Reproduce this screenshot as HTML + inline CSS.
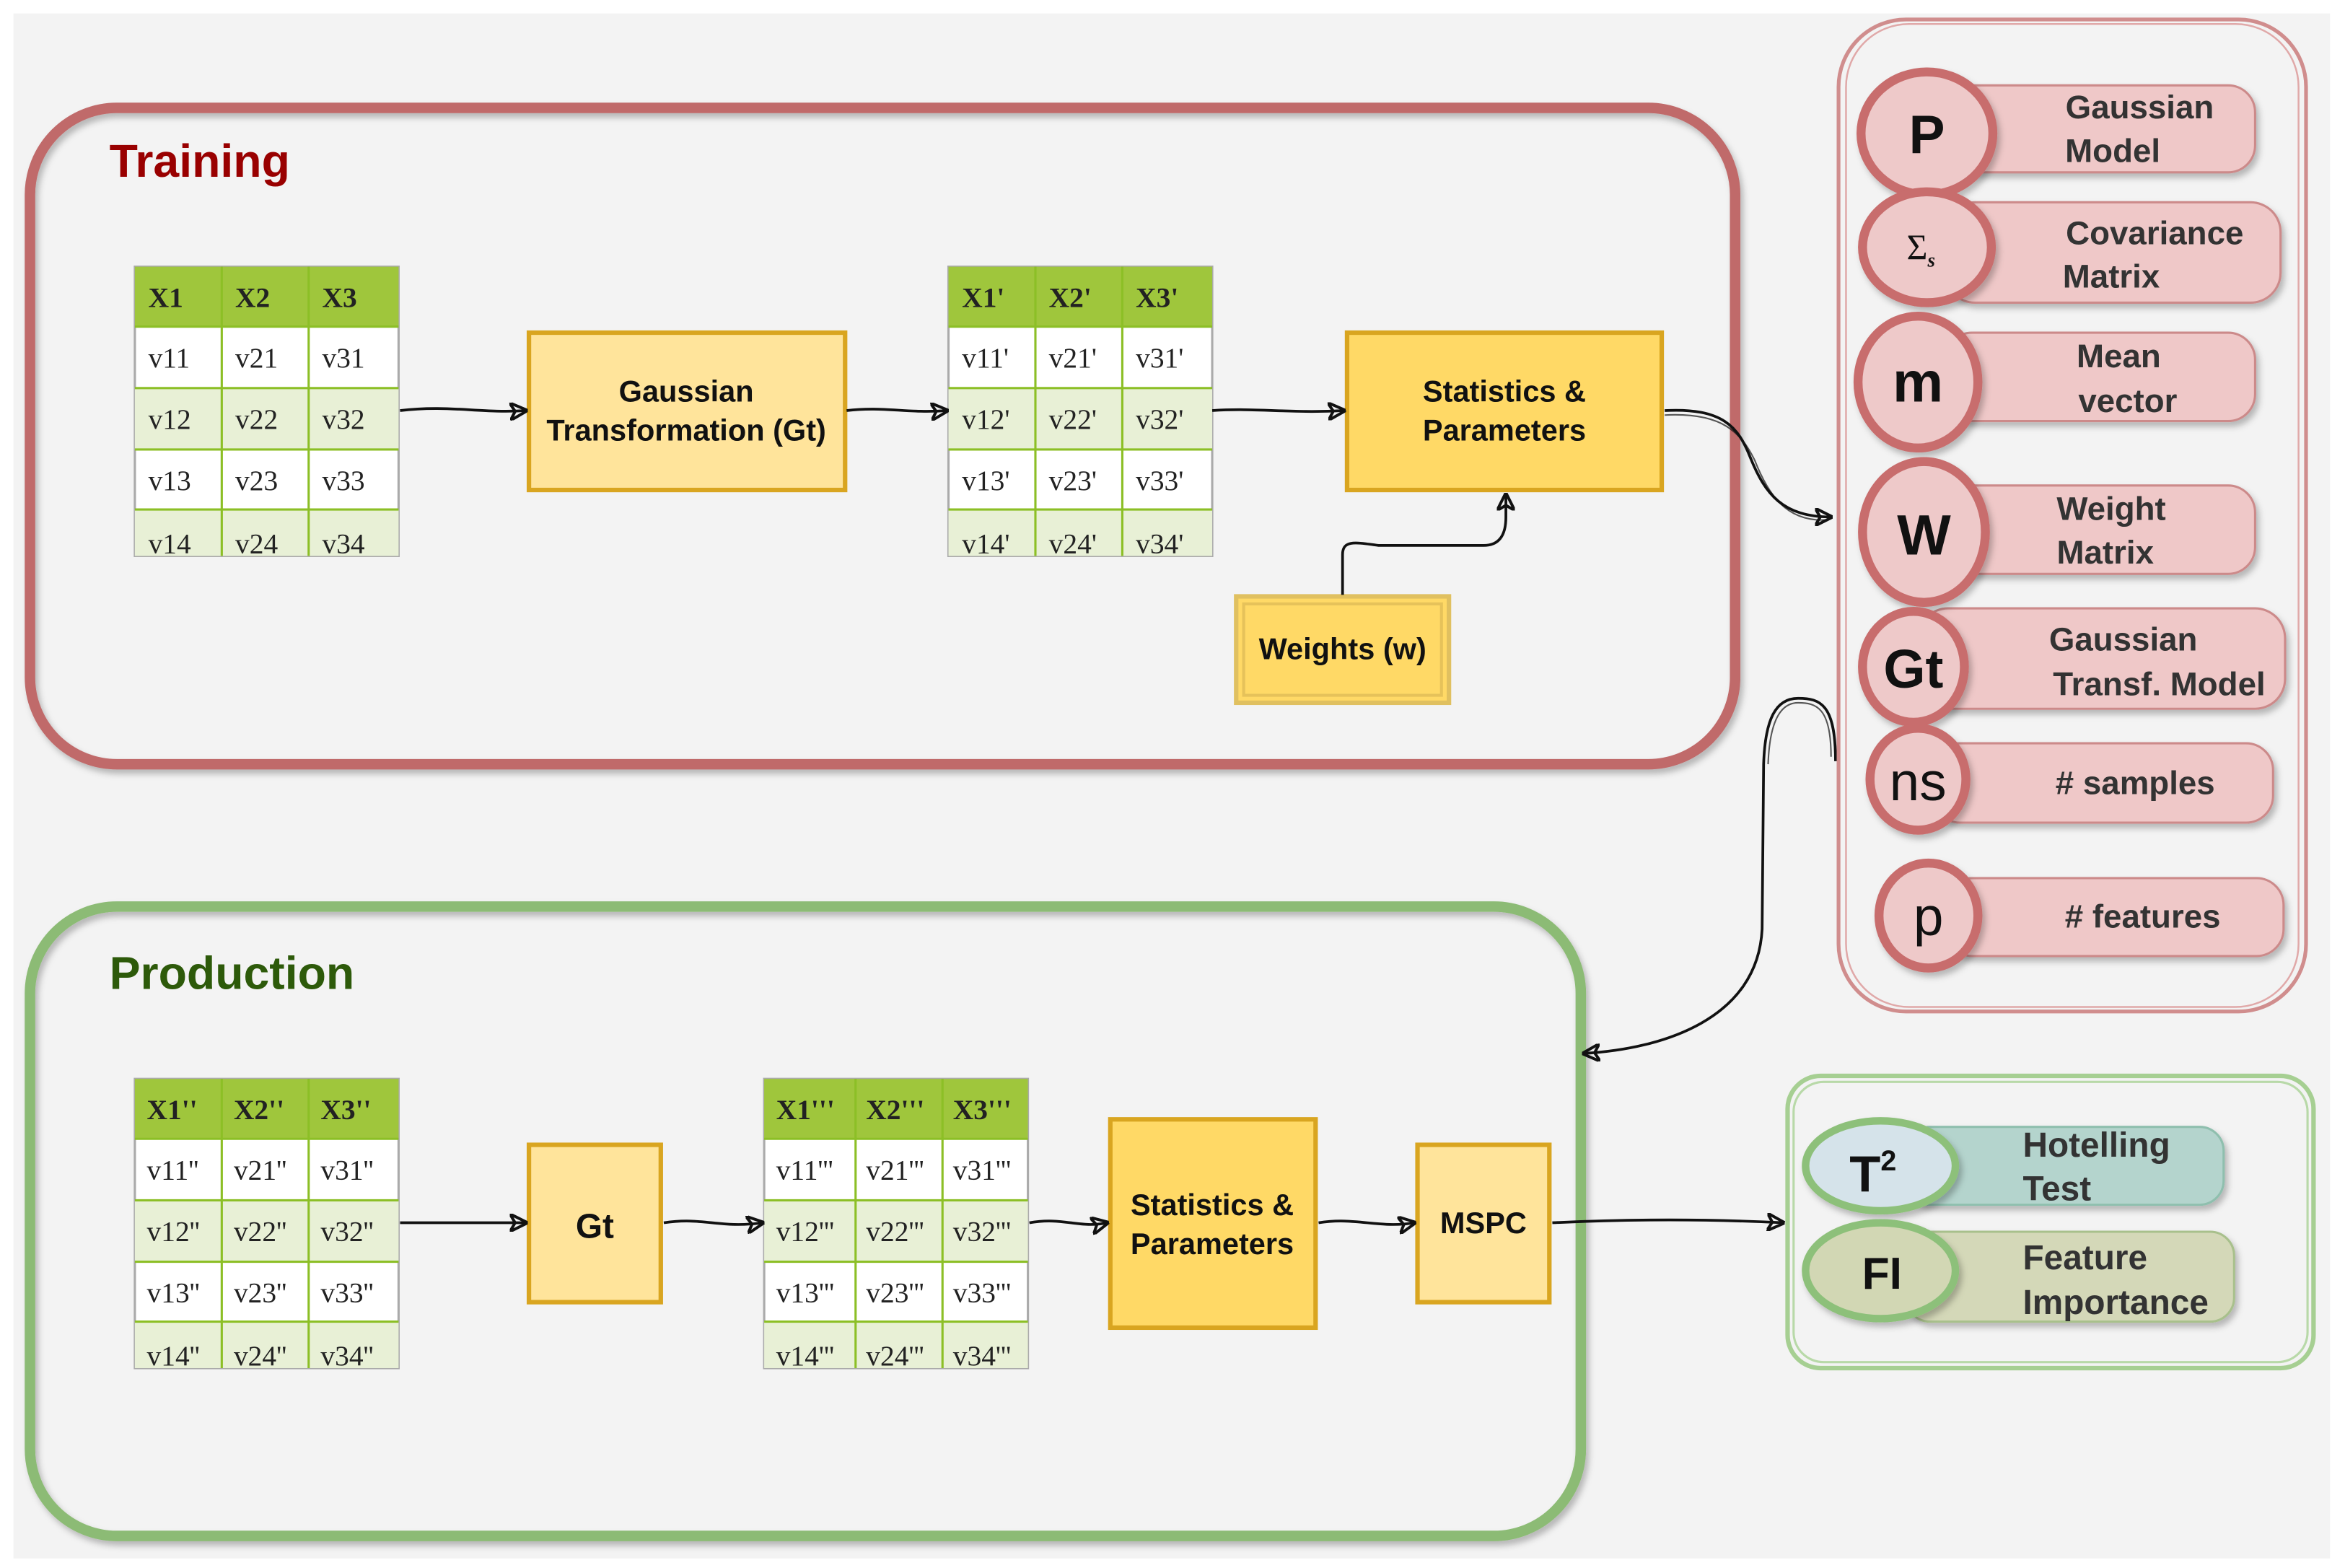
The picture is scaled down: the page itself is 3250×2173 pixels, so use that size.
<!DOCTYPE html>
<html><head><meta charset="utf-8"><style>
html,body{margin:0;padding:0;background:#fff;}
svg{display:block}
</style></head><body>
<svg width="3250" height="2173" viewBox="0 0 1565 1046.4" preserveAspectRatio="none" xmlns="http://www.w3.org/2000/svg">
<defs>
<filter id="sh" x="-10%" y="-10%" width="130%" height="130%"><feDropShadow dx="2" dy="3" stdDeviation="2" flood-color="#000" flood-opacity="0.25"/></filter>
<marker id="ar" viewBox="0 0 10 10" refX="9" refY="5" markerWidth="12" markerHeight="12" markerUnits="userSpaceOnUse" orient="auto"><path d="M0,0 L10,5 L0,10 L3,5 Z" fill="none" stroke="#111" stroke-width="1.6"/></marker>
</defs>
<rect x="9" y="9" width="1546" height="1031" fill="#f3f3f3"/>

<!-- Training box -->
<rect x="20" y="72" width="1138" height="438" rx="58" fill="none" stroke="#c06a6a" stroke-width="7" filter="url(#sh)"/>
<text x="73" y="118" font-family="Liberation Sans, sans-serif" font-weight="bold" font-size="31" fill="#990000">Training</text>

<!-- Production box -->
<rect x="20" y="605" width="1035" height="420" rx="58" fill="none" stroke="#8cbb74" stroke-width="7" filter="url(#sh)"/>
<text x="73" y="660" font-family="Liberation Sans, sans-serif" font-weight="bold" font-size="31" fill="#2d5a0a">Production</text>

<!-- Tables -->
<g font-family="Liberation Serif, serif" font-size="19" fill="#222">
<!-- T1 -->
<g transform="translate(90,178)">
<rect x="0" y="0" width="176" height="193" fill="#fff" stroke="#aaa" stroke-width="1.5"/>
<rect x="0" y="0" width="176" height="40" fill="#9fc63c"/>
<rect x="0" y="81" width="176" height="41" fill="#e8f0d6"/><rect x="0" y="162" width="176" height="31" fill="#e8f0d6"/>
<g stroke="#8cbf26" stroke-width="1.5"><line x1="58" y1="0" x2="58" y2="193"/><line x1="116" y1="0" x2="116" y2="193"/><line x1="0" y1="40" x2="176" y2="40"/><line x1="0" y1="81" x2="176" y2="81"/><line x1="0" y1="122" x2="176" y2="122"/><line x1="0" y1="162" x2="176" y2="162"/></g>
<g font-weight="bold"><text x="9" y="27">X1</text><text x="67" y="27">X2</text><text x="125" y="27">X3</text></g>
<text x="9" y="67">v11</text><text x="67" y="67">v21</text><text x="125" y="67">v31</text>
<text x="9" y="108">v12</text><text x="67" y="108">v22</text><text x="125" y="108">v32</text>
<text x="9" y="149">v13</text><text x="67" y="149">v23</text><text x="125" y="149">v33</text>
<text x="9" y="191">v14</text><text x="67" y="191">v24</text><text x="125" y="191">v34</text>
</g>
<!-- T2 -->
<g transform="translate(633,178)">
<rect x="0" y="0" width="176" height="193" fill="#fff" stroke="#aaa" stroke-width="1.5"/>
<rect x="0" y="0" width="176" height="40" fill="#9fc63c"/>
<rect x="0" y="81" width="176" height="41" fill="#e8f0d6"/><rect x="0" y="162" width="176" height="31" fill="#e8f0d6"/>
<g stroke="#8cbf26" stroke-width="1.5"><line x1="58" y1="0" x2="58" y2="193"/><line x1="116" y1="0" x2="116" y2="193"/><line x1="0" y1="40" x2="176" y2="40"/><line x1="0" y1="81" x2="176" y2="81"/><line x1="0" y1="122" x2="176" y2="122"/><line x1="0" y1="162" x2="176" y2="162"/></g>
<g font-weight="bold"><text x="9" y="27">X1'</text><text x="67" y="27">X2'</text><text x="125" y="27">X3'</text></g>
<text x="9" y="67">v11'</text><text x="67" y="67">v21'</text><text x="125" y="67">v31'</text>
<text x="9" y="108">v12'</text><text x="67" y="108">v22'</text><text x="125" y="108">v32'</text>
<text x="9" y="149">v13'</text><text x="67" y="149">v23'</text><text x="125" y="149">v33'</text>
<text x="9" y="191">v14'</text><text x="67" y="191">v24'</text><text x="125" y="191">v34'</text>
</g>
<!-- T3 -->
<g transform="translate(90,720)">
<rect x="0" y="0" width="176" height="193" fill="#fff" stroke="#aaa" stroke-width="1.5"/>
<rect x="0" y="0" width="176" height="40" fill="#9fc63c"/>
<rect x="0" y="81" width="176" height="41" fill="#e8f0d6"/><rect x="0" y="162" width="176" height="31" fill="#e8f0d6"/>
<g stroke="#8cbf26" stroke-width="1.5"><line x1="58" y1="0" x2="58" y2="193"/><line x1="116" y1="0" x2="116" y2="193"/><line x1="0" y1="40" x2="176" y2="40"/><line x1="0" y1="81" x2="176" y2="81"/><line x1="0" y1="122" x2="176" y2="122"/><line x1="0" y1="162" x2="176" y2="162"/></g>
<g font-weight="bold"><text x="8" y="27">X1''</text><text x="66" y="27">X2''</text><text x="124" y="27">X3''</text></g>
<text x="8" y="67">v11''</text><text x="66" y="67">v21''</text><text x="124" y="67">v31''</text>
<text x="8" y="108">v12''</text><text x="66" y="108">v22''</text><text x="124" y="108">v32''</text>
<text x="8" y="149">v13''</text><text x="66" y="149">v23''</text><text x="124" y="149">v33''</text>
<text x="8" y="191">v14''</text><text x="66" y="191">v24''</text><text x="124" y="191">v34''</text>
</g>
<!-- T4 -->
<g transform="translate(510,720)">
<rect x="0" y="0" width="176" height="193" fill="#fff" stroke="#aaa" stroke-width="1.5"/>
<rect x="0" y="0" width="176" height="40" fill="#9fc63c"/>
<rect x="0" y="81" width="176" height="41" fill="#e8f0d6"/><rect x="0" y="162" width="176" height="31" fill="#e8f0d6"/>
<g stroke="#8cbf26" stroke-width="1.5"><line x1="61" y1="0" x2="61" y2="193"/><line x1="119" y1="0" x2="119" y2="193"/><line x1="0" y1="40" x2="176" y2="40"/><line x1="0" y1="81" x2="176" y2="81"/><line x1="0" y1="122" x2="176" y2="122"/><line x1="0" y1="162" x2="176" y2="162"/></g>
<g font-weight="bold"><text x="8" y="27">X1'''</text><text x="68" y="27">X2'''</text><text x="126" y="27">X3'''</text></g>
<text x="8" y="67">v11'''</text><text x="68" y="67">v21'''</text><text x="126" y="67">v31'''</text>
<text x="8" y="108">v12'''</text><text x="68" y="108">v22'''</text><text x="126" y="108">v32'''</text>
<text x="8" y="149">v13'''</text><text x="68" y="149">v23'''</text><text x="126" y="149">v33'''</text>
<text x="8" y="191">v14'''</text><text x="68" y="191">v24'''</text><text x="126" y="191">v34'''</text>
</g>
</g>

<!-- Boxes -->
<g font-family="Liberation Sans, sans-serif" font-weight="bold" font-size="20" fill="#111" text-anchor="middle">
<rect x="353" y="222" width="211" height="105" fill="#ffe49b" stroke="#d9a520" stroke-width="3"/>
<text x="458" y="268">Gaussian</text><text x="458" y="294">Transformation (Gt)</text>
<rect x="899" y="222" width="210" height="105" fill="#ffd966" stroke="#d9a520" stroke-width="3"/>
<text x="1004" y="268">Statistics &amp;</text><text x="1004" y="294">Parameters</text>
<rect x="825" y="398" width="142" height="71" fill="#ffd966" stroke="#e0c060" stroke-width="3"/>
<rect x="830" y="403" width="132" height="61" fill="none" stroke="#e6c25a" stroke-width="2"/>
<text x="896" y="440">Weights (w)</text>
<rect x="353" y="764" width="88" height="105" fill="#ffe49b" stroke="#d9a520" stroke-width="3"/>
<text x="397" y="826" font-size="23">Gt</text>
<rect x="741" y="747" width="137" height="139" fill="#ffd966" stroke="#d9a520" stroke-width="3"/>
<text x="809" y="811">Statistics &amp;</text><text x="809" y="837">Parameters</text>
<rect x="946" y="764" width="88" height="105" fill="#ffe49b" stroke="#d9a520" stroke-width="3"/>
<text x="990" y="823">MSPC</text>
</g>

<!-- Connectors -->
<g fill="none" stroke="#111" stroke-width="1.8" marker-end="url(#ar)">
<path d="M267,274 C300,270 320,276 351,274"/>
<path d="M565,274 C590,271 605,276 632,274"/>
<path d="M809,274 C840,272 860,276 897,274"/>
<path d="M896,397 L896,370 C896,360 905,362 920,364 L990,364 C1002,364 1005,355 1005,345 L1005,330"/>
<path d="M1111,274 C1150,272 1160,285 1168,305 C1178,330 1190,345 1222,345"/>
<path d="M267,816 L351,816"/>
<path d="M443,816 C470,812 480,820 509,816"/>
<path d="M687,816 C710,812 720,820 739,816"/>
<path d="M880,816 C905,812 920,820 944,816"/>
<path d="M1036,816 C1100,813 1150,814 1190,816"/>
<path d="M1225,508 C1225,470 1215,466 1200,466 C1185,466 1178,480 1177,510 L1176,620 C1173,680 1110,700 1057,703"/>
</g>
<g fill="none" stroke="#111" stroke-width="1" opacity="0.7">
<path d="M1111,277 C1150,275 1162,289 1171,307 C1180,330 1192,348 1218,347"/>
<path d="M1222,505 C1222,472 1212,469 1200,469 C1188,469 1181,482 1180,510"/>
</g>

<!-- Right red panel -->
<rect x="1227" y="13" width="312" height="662" rx="45" fill="none" stroke="#d08d8d" stroke-width="2.5"/>
<rect x="1232" y="16" width="302" height="656" rx="42" fill="none" stroke="#e0a8a8" stroke-width="1.2"/>

<g font-family="Liberation Sans, sans-serif" font-weight="bold" fill="#333" font-size="22" text-anchor="middle">
<rect x="1292" y="57" width="213" height="58" rx="18" fill="#efc8c8" stroke="#cc8a8a" stroke-width="1.5" filter="url(#sh)"/>
<text x="1428" y="79">Gaussian</text><text x="1410" y="108">Model</text>
<rect x="1298" y="135" width="224" height="67" rx="20" fill="#efc8c8" stroke="#cc8a8a" stroke-width="1.5" filter="url(#sh)"/>
<text x="1438" y="163">Covariance</text><text x="1409" y="192">Matrix</text>
<rect x="1298" y="222" width="207" height="59" rx="18" fill="#efc8c8" stroke="#cc8a8a" stroke-width="1.5" filter="url(#sh)"/>
<text x="1414" y="245">Mean</text><text x="1420" y="275">vector</text>
<rect x="1294" y="324" width="211" height="59" rx="18" fill="#efc8c8" stroke="#cc8a8a" stroke-width="1.5" filter="url(#sh)"/>
<text x="1409" y="347">Weight</text><text x="1405" y="376">Matrix</text>
<rect x="1280" y="406" width="245" height="67" rx="20" fill="#efc8c8" stroke="#cc8a8a" stroke-width="1.5" filter="url(#sh)"/>
<text x="1417" y="434">Gaussian</text><text x="1441" y="464">Transf. Model</text>
<rect x="1290" y="496" width="227" height="53" rx="18" fill="#efc8c8" stroke="#cc8a8a" stroke-width="1.5" filter="url(#sh)"/>
<text x="1425" y="530">#  samples</text>
<rect x="1298" y="586" width="226" height="52" rx="18" fill="#efc8c8" stroke="#cc8a8a" stroke-width="1.5" filter="url(#sh)"/>
<text x="1430" y="619">#  features</text>
</g>
<g fill="#eec9c9" stroke="#c86d6d" stroke-width="6" filter="url(#sh)">
<ellipse cx="1286" cy="89" rx="44" ry="41"/>
<ellipse cx="1286" cy="165" rx="43" ry="37"/>
<ellipse cx="1280" cy="255" rx="40" ry="44"/>
<ellipse cx="1284" cy="355" rx="41" ry="47"/>
<ellipse cx="1277" cy="445" rx="34" ry="37"/>
<ellipse cx="1280" cy="520" rx="32" ry="34"/>
<ellipse cx="1287" cy="611" rx="33" ry="35"/>
</g>
<g font-family="Liberation Sans, sans-serif" fill="#111" text-anchor="middle">
<text x="1286" y="102" font-size="36" font-weight="bold">P</text>
<text x="1282" y="173" font-size="24" font-family="Liberation Serif, serif">Σ<tspan font-size="13" font-style="italic" font-weight="bold" dy="5">s</tspan></text>
<text x="1280" y="268" font-size="38" font-weight="bold">m</text>
<text x="1284" y="370" font-size="38" font-weight="bold">W</text>
<text x="1277" y="459" font-size="36" font-weight="bold">Gt</text>
<text x="1280" y="534" font-size="36">ns</text>
<text x="1287" y="624" font-size="36">p</text>
</g>

<!-- Right green panel -->
<rect x="1193" y="718" width="351" height="195" rx="22" fill="none" stroke="#a6cf92" stroke-width="3"/>
<rect x="1197" y="722" width="343" height="187" rx="20" fill="none" stroke="#b8d9a8" stroke-width="1.5"/>
<g font-family="Liberation Sans, sans-serif" font-weight="bold" fill="#333" font-size="23">
<rect x="1272" y="752" width="212" height="52" rx="16" fill="#b4d4cd" stroke="#8fbfae" stroke-width="1.5" filter="url(#sh)"/>
<text x="1350" y="772">Hotelling</text><text x="1350" y="801">Test</text>
<rect x="1272" y="822" width="219" height="60" rx="16" fill="#d4d8b8" stroke="#a8c08c" stroke-width="1.5" filter="url(#sh)"/>
<text x="1350" y="847">Feature</text><text x="1350" y="877">Importance</text>
</g>
<g stroke="#8dc07a" stroke-width="5" filter="url(#sh)">
<ellipse cx="1255" cy="778" rx="50" ry="30" fill="#d5e3ea"/>
<ellipse cx="1255" cy="848" rx="50" ry="32" fill="#d2d7b4"/>
</g>
<g font-family="Liberation Sans, sans-serif" font-weight="bold" fill="#111" text-anchor="middle">
<text x="1250" y="795" font-size="34">T<tspan font-size="19" dy="-14">2</tspan></text>
<text x="1256" y="860" font-size="30">FI</text>
</g>
</svg>
</body></html>
